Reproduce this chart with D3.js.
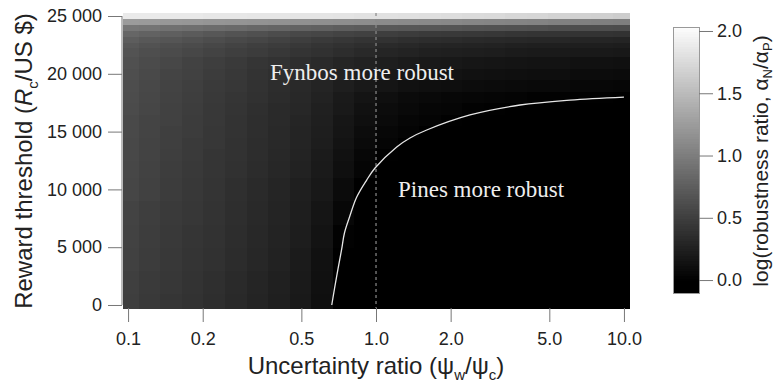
<!DOCTYPE html>
<html>
<head>
<meta charset="utf-8">
<script src="https://cdn.jsdelivr.net/npm/d3@7"></script>
<style>
body { margin: 0; background: #fff; }
text { font-family: "Liberation Sans", Arial, sans-serif; }
</style>
</head>
<body>
<div id="chart"></div>
<script>
// uncertainty ratio (psi_w / psi_c) of each heatmap column
const psi = [0.100, 0.122, 0.149, 0.182, 0.223, 0.272, 0.333, 0.406, 0.496, 0.606, 0.741, 0.905,
             1.105, 1.350, 1.649, 2.014, 2.460, 3.005, 3.671, 4.484, 5.477, 6.690, 8.172, 10.00];
// reward threshold of each heatmap row
const reward = [0, 2000, 4000, 6000, 8000, 10000, 12000, 13000, 14000, 15000, 16000, 17000,
                18000, 19000, 20000, 21000, 22000, 22500, 23000, 23500, 24000, 24500, 25000];
const logRatio = [
  [0.50,0.46,0.43,0.40,0.37,0.33,0.29,0.25,0.20,0.12,-0.04,-0.10,-0.15,-0.19,-0.22,-0.25,-0.27,-0.29,-0.30,-0.31,-0.32,-0.33,-0.33,-0.34],
  [0.51,0.47,0.44,0.41,0.38,0.34,0.30,0.26,0.21,0.13,-0.02,-0.08,-0.13,-0.17,-0.20,-0.23,-0.25,-0.27,-0.28,-0.29,-0.30,-0.31,-0.31,-0.32],
  [0.52,0.48,0.45,0.42,0.39,0.35,0.31,0.27,0.22,0.14,-0.01,-0.07,-0.11,-0.15,-0.18,-0.21,-0.23,-0.25,-0.26,-0.27,-0.28,-0.29,-0.29,-0.30],
  [0.53,0.49,0.46,0.43,0.40,0.36,0.32,0.28,0.23,0.15,0.02,-0.05,-0.09,-0.13,-0.16,-0.19,-0.21,-0.22,-0.23,-0.24,-0.25,-0.26,-0.26,-0.27],
  [0.54,0.50,0.47,0.44,0.41,0.37,0.33,0.29,0.24,0.17,0.06,-0.03,-0.07,-0.11,-0.14,-0.16,-0.18,-0.19,-0.20,-0.21,-0.22,-0.22,-0.23,-0.23],
  [0.56,0.52,0.48,0.45,0.42,0.38,0.34,0.30,0.25,0.19,0.09,0.00,-0.05,-0.08,-0.11,-0.13,-0.15,-0.16,-0.17,-0.18,-0.18,-0.19,-0.19,-0.20],
  [0.57,0.53,0.49,0.46,0.43,0.39,0.35,0.31,0.27,0.21,0.12,0.04,-0.02,-0.06,-0.08,-0.10,-0.12,-0.13,-0.14,-0.14,-0.15,-0.15,-0.16,-0.16],
  [0.58,0.54,0.50,0.47,0.43,0.40,0.36,0.32,0.28,0.22,0.14,0.06,0.01,-0.04,-0.06,-0.08,-0.10,-0.11,-0.12,-0.12,-0.13,-0.13,-0.13,-0.14],
  [0.58,0.54,0.51,0.47,0.44,0.40,0.36,0.33,0.29,0.23,0.15,0.08,0.04,-0.01,-0.04,-0.06,-0.07,-0.08,-0.09,-0.10,-0.10,-0.10,-0.11,-0.11],
  [0.59,0.55,0.51,0.48,0.44,0.41,0.37,0.33,0.29,0.24,0.17,0.10,0.06,0.03,0.00,-0.03,-0.05,-0.06,-0.07,-0.07,-0.08,-0.08,-0.08,-0.09],
  [0.59,0.55,0.52,0.48,0.45,0.41,0.37,0.34,0.30,0.25,0.18,0.12,0.08,0.05,0.03,0.01,-0.01,-0.03,-0.04,-0.05,-0.05,-0.06,-0.06,-0.06],
  [0.60,0.56,0.52,0.49,0.45,0.42,0.38,0.34,0.31,0.26,0.20,0.14,0.10,0.07,0.05,0.04,0.02,0.01,-0.01,-0.02,-0.03,-0.03,-0.04,-0.04],
  [0.61,0.57,0.53,0.50,0.46,0.43,0.39,0.35,0.32,0.27,0.21,0.16,0.12,0.09,0.07,0.06,0.05,0.04,0.03,0.02,0.02,0.01,0.01,0.00],
  [0.62,0.58,0.54,0.51,0.47,0.44,0.40,0.36,0.33,0.29,0.24,0.20,0.17,0.14,0.12,0.11,0.10,0.09,0.08,0.07,0.07,0.06,0.06,0.05],
  [0.63,0.59,0.55,0.52,0.48,0.45,0.41,0.38,0.35,0.31,0.27,0.23,0.20,0.18,0.16,0.15,0.14,0.13,0.12,0.11,0.11,0.10,0.10,0.09],
  [0.64,0.60,0.57,0.53,0.50,0.47,0.43,0.40,0.37,0.34,0.30,0.27,0.24,0.22,0.20,0.19,0.18,0.17,0.16,0.15,0.15,0.14,0.14,0.13],
  [0.67,0.63,0.60,0.57,0.54,0.51,0.48,0.45,0.42,0.39,0.36,0.33,0.30,0.28,0.26,0.25,0.24,0.23,0.22,0.21,0.21,0.20,0.20,0.19],
  [0.70,0.66,0.63,0.60,0.57,0.54,0.51,0.48,0.45,0.42,0.39,0.37,0.34,0.32,0.30,0.29,0.28,0.27,0.26,0.25,0.25,0.24,0.24,0.23],
  [0.75,0.71,0.68,0.65,0.62,0.59,0.56,0.53,0.50,0.47,0.44,0.42,0.40,0.38,0.36,0.35,0.34,0.33,0.32,0.31,0.31,0.30,0.30,0.29],
  [0.82,0.79,0.76,0.73,0.70,0.67,0.64,0.61,0.58,0.56,0.54,0.52,0.50,0.48,0.47,0.46,0.45,0.44,0.43,0.42,0.42,0.41,0.41,0.40],
  [0.95,0.93,0.91,0.89,0.87,0.85,0.83,0.81,0.79,0.77,0.75,0.73,0.71,0.70,0.69,0.68,0.67,0.66,0.65,0.64,0.63,0.62,0.62,0.61],
  [1.25,1.24,1.22,1.21,1.20,1.19,1.18,1.17,1.16,1.15,1.14,1.13,1.12,1.11,1.10,1.09,1.08,1.07,1.06,1.05,1.04,1.03,1.02,1.01],
  [1.88,1.88,1.87,1.87,1.86,1.86,1.85,1.85,1.84,1.84,1.83,1.82,1.81,1.80,1.79,1.78,1.76,1.75,1.73,1.72,1.70,1.68,1.67,1.65]
];
// equal-robustness boundary (log ratio = 0)
const curvePsi    = [0.663, 0.693, 0.726, 0.746, 0.782, 0.836, 0.917, 0.991, 1.212, 1.371, 1.602, 2.394, 3.81, 6.06, 10.0];
const curveReward = [0, 2420, 4760, 6230, 7610, 9340, 10810, 11850, 13670, 14450, 15140, 16440, 17300, 17730, 17990];

const xTicks = [0.1, 0.2, 0.5, 1, 2, 5, 10];
const yTicks = [0, 5000, 10000, 15000, 20000, 25000];
const barTicks = [0, 0.5, 1, 1.5, 2];

const width = 778, height = 383;
const svg = d3.select("#chart").append("svg")
    .attr("width", width).attr("height", height);

const x = d3.scaleLog().domain([0.0954, 10.48]).range([123, 629]);
const y = d3.scaleLinear().domain([-260, 25260]).range([308, 13]);
const grey = d3.scaleLinear().domain([0, 2.05]).range(["#000", "#fff"]).clamp(true);

// cell edges half-way between neighbours
const xEdge = psi.map((p, i) => [
    i === 0 ? x.domain()[0] : Math.sqrt(psi[i - 1] * p),
    i === psi.length - 1 ? x.domain()[1] : Math.sqrt(p * psi[i + 1])
]);
const yEdge = reward.map((r, j) => [
    j === 0 ? y.domain()[0] : (reward[j - 1] + r) / 2,
    j === reward.length - 1 ? y.domain()[1] : (r + reward[j + 1]) / 2
]);

const cells = [];
logRatio.forEach((row, j) => row.forEach((v, i) => cells.push({ i, j, v })));

svg.append("g")
    .attr("shape-rendering", "crispEdges")
    .selectAll("rect")
    .data(cells)
    .enter()
    .append("rect")
    .attr("x", d => x(xEdge[d.i][0]))
    .attr("width", d => x(xEdge[d.i][1]) - x(xEdge[d.i][0]) + 0.5)
    .attr("y", d => y(yEdge[d.j][1]))
    .attr("height", d => y(yEdge[d.j][0]) - y(yEdge[d.j][1]) + 0.5)
    .attr("fill", d => grey(d.v));

// psi ratio = 1
svg.append("line")
    .attr("x1", x(1)).attr("x2", x(1))
    .attr("y1", 13).attr("y2", 308)
    .attr("stroke", "#8a8a8a").attr("stroke-width", 1.2)
    .attr("stroke-dasharray", "3,3");

const line = d3.line()
    .x(d => x(d[0]))
    .y(d => y(d[1]))
    .curve(d3.curveCatmullRom.alpha(0.5));
svg.append("path")
    .datum(curvePsi.map((p, i) => [p, curveReward[i]]))
    .attr("d", line)
    .attr("fill", "none")
    .attr("stroke", "#e6e6e6")
    .attr("stroke-width", 1.3);

svg.append("text").attr("x", 270).attr("y", 80)
    .style("font-family", "'Liberation Serif', 'Times New Roman', serif")
    .style("font-size", "23px").attr("fill", "#eee")
    .text("Fynbos more robust");
svg.append("text").attr("x", 398).attr("y", 197)
    .style("font-family", "'Liberation Serif', 'Times New Roman', serif")
    .style("font-size", "23px").attr("fill", "#eee")
    .text("Pines more robust");

// axes
function styleAxis(g) {
    g.select(".domain").remove();
    g.selectAll(".tick line").attr("stroke", "#777");
    g.selectAll(".tick text").attr("fill", "#222")
        .style("font-size", "18px");
}

const yAxis = svg.append("g")
    .attr("transform", "translate(122,0)")
    .call(d3.axisLeft(y).tickValues(yTicks).tickSize(14).tickPadding(6)
        .tickFormat(d => d3.format(",")(d).replace(/,/g, " ")))
    .call(styleAxis);
yAxis.append("line")
    .attr("y1", y(0)).attr("y2", y(25000))
    .attr("stroke", "#777");

svg.append("g")
    .attr("transform", "translate(0,308)")
    .call(d3.axisBottom(x).tickValues(xTicks).tickSize(14).tickPadding(10)
        .tickFormat(d3.format(".1f")))
    .call(styleAxis);

// titles
const xt = svg.append("text")
    .attr("x", 376).attr("y", 374)
    .attr("text-anchor", "middle")
    .style("font-size", "24px").attr("fill", "#222");
xt.append("tspan").text("Uncertainty ratio (ψ");
xt.append("tspan").attr("dy", 6).style("font-size", "15px").text("w");
xt.append("tspan").attr("dy", -6).text("/ψ");
xt.append("tspan").attr("dy", 6).style("font-size", "15px").text("c");
xt.append("tspan").attr("dy", -6).text(")");

const yt = svg.append("text")
    .attr("transform", "translate(32,161) rotate(-90)")
    .attr("text-anchor", "middle")
    .style("font-size", "24px").attr("fill", "#222");
yt.append("tspan").text("Reward threshold (");
yt.append("tspan").style("font-style", "italic").text("R");
yt.append("tspan").attr("dy", 6).style("font-size", "15px").text("c");
yt.append("tspan").attr("dy", -6).text("/US $)");

// colour bar
const cb = d3.scaleLinear().domain([-0.104, 2.032]).range([293, 27]);
const steps = d3.range(-0.104, 2.032, 0.02);
const bar = svg.append("g").attr("shape-rendering", "crispEdges");
bar.selectAll("rect")
    .data(steps)
    .enter()
    .append("rect")
    .attr("x", 673).attr("width", 26)
    .attr("y", d => cb(Math.min(d + 0.02, 2.032)))
    .attr("height", d => cb(d) - cb(Math.min(d + 0.02, 2.032)) + 0.5)
    .attr("fill", d => grey(d + 0.01));
bar.append("rect")
    .attr("x", 673).attr("y", 27).attr("width", 26).attr("height", 266)
    .attr("fill", "none").attr("stroke", "#999");

svg.append("g")
    .attr("transform", "translate(699,0)")
    .call(d3.axisRight(cb).tickValues(barTicks).tickSize(14).tickPadding(4)
        .tickFormat(d3.format(".1f")))
    .call(styleAxis);

const ct = svg.append("text")
    .attr("transform", "translate(768,161) rotate(-90)")
    .attr("text-anchor", "middle")
    .style("font-size", "21px").attr("fill", "#222");
ct.append("tspan").text("log(robustness ratio, α");
ct.append("tspan").attr("dy", 4).style("font-size", "13px").text("N");
ct.append("tspan").attr("dy", -4).text("/α");
ct.append("tspan").attr("dy", 4).style("font-size", "13px").text("P");
ct.append("tspan").attr("dy", -4).text(")");
</script>
</body>
</html>
